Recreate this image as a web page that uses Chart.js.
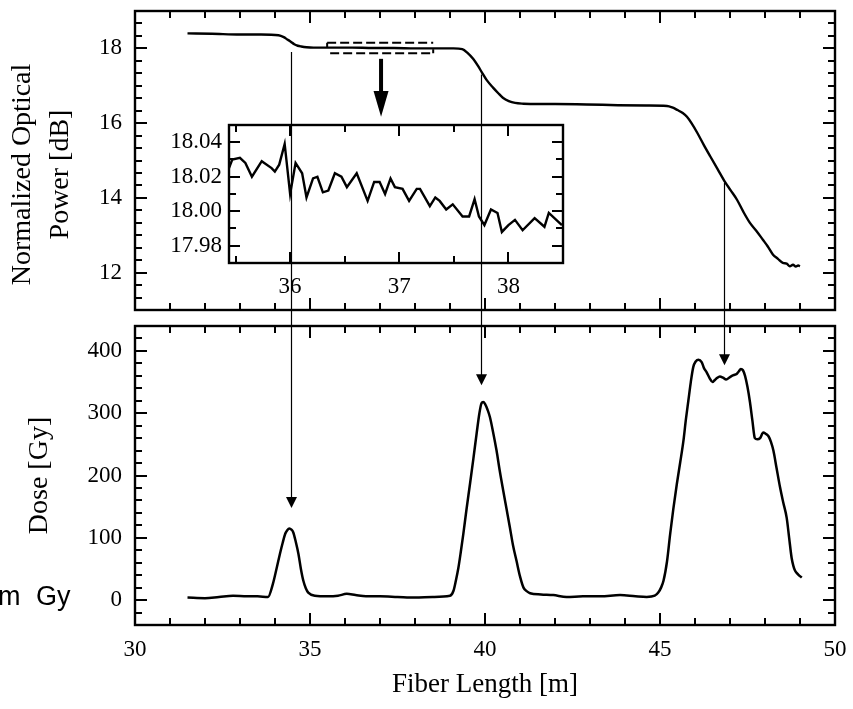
<!DOCTYPE html>
<html>
<head>
<meta charset="utf-8">
<title>Optical power and dose along the fiber</title>
<script src="https://cdn.jsdelivr.net/npm/chart.js@4.4.1/dist/chart.umd.min.js"></script>
<style>
  html, body { margin: 0; padding: 0; background: #fff; }
  #wrap { position: relative; width: 853px; height: 709px; overflow: hidden; }
  #main { position: absolute; left: 0; top: 0; }
  #inset { position: absolute; left: 140px; top: 115px; }
  #cut { position: absolute; left: -2px; top: 583px; font-family: 'Liberation Sans', Arial, sans-serif;
         font-size: 27px; line-height: 27px; word-spacing: 8px; color: #000; white-space: nowrap; }
</style>
</head>
<body>
<div id="wrap">
  <canvas id="main" width="853" height="709"></canvas>
  <canvas id="inset" width="440" height="185"></canvas>
  <div id="cut">m Gy</div>
</div>
<script>
// normalized optical power along the fiber (top panel)
const powerLength = [
  31.5, 32.2, 33.0, 33.6, 34.1, 34.25, 34.35, 34.45, 34.55, 34.65,
  34.75, 34.9, 35.1, 35.6, 36.2, 36.8, 37.4, 38.0, 38.6, 39.1,
  39.35, 39.5, 39.66, 39.8, 39.91, 40.05, 40.23, 40.38, 40.51, 40.68,
  40.86, 41.1, 41.5, 42.0, 42.9, 43.8, 44.6, 45.2, 45.35, 45.5,
  45.65, 45.77, 45.9, 46.06, 46.25, 46.43, 46.65, 46.86, 47.02, 47.2,
  47.38, 47.57, 47.75, 47.94, 48.08, 48.23, 48.37, 48.51, 48.62, 48.71,
  48.8, 48.88, 48.95, 49.0
];
const powerDb = [
  18.40, 18.39, 18.37, 18.37, 18.35, 18.30, 18.24, 18.18, 18.11, 18.07,
  18.05, 18.03, 18.02, 18.02, 18.02, 18.01, 18.01, 18.00, 18.00, 18.00,
  17.98, 17.88, 17.72, 17.53, 17.36, 17.15, 16.95, 16.80, 16.68, 16.59,
  16.54, 16.52, 16.51, 16.51, 16.50, 16.48, 16.47, 16.46, 16.42, 16.35,
  16.27, 16.17, 16.00, 15.75, 15.42, 15.12, 14.76, 14.42, 14.20, 13.95,
  13.63, 13.33, 13.12, 12.88, 12.70, 12.48, 12.37, 12.26, 12.24, 12.17,
  12.21, 12.16, 12.19, 12.17
];

// dose along the fiber (bottom panel)
const doseLength = [
  31.5, 32.0, 32.4, 32.8, 33.2, 33.5, 33.8, 33.94, 34.05, 34.14,
  34.22, 34.29, 34.35, 34.41, 34.47, 34.52, 34.6, 34.67, 34.74, 34.81,
  34.88, 34.95, 35.14, 35.5, 35.8, 36.05, 36.3, 36.6, 37.0, 37.5,
  38.0, 38.5, 39.0, 39.1, 39.17, 39.24, 39.31, 39.38, 39.47, 39.57,
  39.67, 39.76, 39.84, 39.9, 39.95, 40.0, 40.07, 40.14, 40.23, 40.33,
  40.42, 40.52, 40.62, 40.71, 40.8, 40.9, 41.0, 41.1, 41.2, 41.29,
  41.6, 41.95, 42.33, 42.8, 43.3, 43.86, 44.3, 44.62, 44.85, 44.95,
  45.03, 45.1, 45.2, 45.29, 45.38, 45.48, 45.58, 45.67, 45.74, 45.81,
  45.88, 45.95, 46.02, 46.1, 46.19, 46.26, 46.33, 46.42, 46.5, 46.56,
  46.62, 46.71, 46.8, 46.89, 47.0, 47.1, 47.19, 47.25, 47.31, 47.37,
  47.43, 47.5, 47.57, 47.64, 47.71, 47.78, 47.86, 47.95, 48.02, 48.1,
  48.17, 48.24, 48.33, 48.43, 48.52, 48.62, 48.69, 48.76, 48.81, 48.86,
  48.95, 49.05
];
const doseGy = [
  4, 3, 5, 7, 6, 6, 5, 26, 52, 74,
  92, 106, 112, 115, 113, 109, 92, 74, 50, 31,
  19, 12, 7, 6, 7, 10, 8, 6, 6, 5,
  4, 5, 7, 15, 32, 52, 78, 106, 145, 186,
  228, 267, 300, 316, 318, 315, 306, 294, 270, 240,
  208, 176, 145, 117, 88, 63, 38, 20, 14, 11,
  9, 8, 5, 6, 6, 8, 6, 5, 7, 12,
  20, 31, 62, 106, 146, 186, 222, 256, 290, 320,
  350, 374, 383, 386, 382, 372, 366, 356, 350, 353,
  356, 359, 357, 354, 358, 361, 363, 367, 371, 369,
  360, 342, 318, 288, 260, 258, 260, 269, 267, 263,
  254, 240, 212, 181, 157, 132, 100, 68, 55, 47,
  41, 36
];

// blown-up piece of the power trace (inset)
const zoomLength = [
  35.44, 35.47, 35.54, 35.59, 35.65, 35.74, 35.83, 35.86, 35.90, 35.95,
  36.00, 36.05, 36.11, 36.15, 36.21, 36.25, 36.30, 36.35, 36.41, 36.47,
  36.52, 36.61, 36.71, 36.77, 36.82, 36.87, 36.92, 36.96, 37.03, 37.09,
  37.16, 37.19, 37.28, 37.33, 37.37, 37.43, 37.49, 37.58, 37.64, 37.69,
  37.73, 37.78, 37.84, 37.90, 37.94, 38.00, 38.06, 38.13, 38.24, 38.33,
  38.37, 38.49
];
const zoomDb = [
  18.025, 18.030, 18.031, 18.028, 18.020, 18.029, 18.025, 18.023, 18.027, 18.039,
  18.010, 18.028, 18.022, 18.008, 18.019, 18.020, 18.011, 18.012, 18.022, 18.020,
  18.014, 18.022, 18.006, 18.017, 18.017, 18.010, 18.019, 18.014, 18.013, 18.006,
  18.013, 18.013, 18.003, 18.008, 18.006, 18.001, 18.004, 17.997, 17.997, 18.007,
  17.997, 17.992, 18.001, 17.999, 17.988, 17.992, 17.995, 17.989, 17.996, 17.991,
  17.999, 17.992
];

// tick labels
const lengthTicks = [30, 35, 40, 45, 50];
const powerTicks = [12, 14, 16, 18];
const doseTicks = [0, 100, 200, 300, 400];
const zoomLengthTicks = [36, 37, 38];
const zoomDbTicks = [17.98, 18.00, 18.02, 18.04];

// arrows from a step in the power trace down to its dose peak
const markLength = [34.45, 39.9, 46.84];
const markFromDb = [17.9, 17.3, 14.4];
const markToGy = [148, 345, 377];

// dashed box that the inset blows up, and the thick arrow under it
const zoomBoxLength = [35.49, 38.52];
const zoomBoxDb = [17.87, 18.15];
const bigArrowLength = 37.03;
const bigArrowDb = [17.72, 16.86, 16.17];

const SERIF = "'Liberation Serif', 'Times New Roman', serif";
const tickFont = { family: SERIF, size: 23 };
const xTitleFont = { family: SERIF, size: 27 };
const yTitleFont = { family: SERIF, size: 28, lineHeight: 1.36 };

const pts = (xs, ys) => xs.map((x, i) => ({ x: x, y: ys[i] }));
const fixTicks = vals => s => { s.ticks = vals.map(v => ({ value: v })); };

function tickRun(from, to, step) {
  const out = [];
  for (let k = 0; from + k * step <= to + 1e-9; k++) out.push(from + k * step);
  return out;
}
const isMajor = (v, majors) => majors.some(m => Math.abs(m - v) < 1e-6);

// frame with inward ticks on all four sides
function drawBox(ctx, box, xs, ys, xMinor, yMinor, xMajor, yMajor, major, minor) {
  ctx.save();
  ctx.strokeStyle = '#000';
  ctx.lineWidth = 2;
  ctx.beginPath();
  xMinor.forEach(v => {
    const p = Math.round(xs.getPixelForValue(v));
    const len = isMajor(v, xMajor) ? major : minor;
    ctx.moveTo(p, box.top); ctx.lineTo(p, box.top + len);
    ctx.moveTo(p, box.bottom); ctx.lineTo(p, box.bottom - len);
  });
  yMinor.forEach(v => {
    const p = Math.round(ys.getPixelForValue(v));
    const len = isMajor(v, yMajor) ? major : minor;
    ctx.moveTo(box.left, p); ctx.lineTo(box.left + len, p);
    ctx.moveTo(box.right, p); ctx.lineTo(box.right - len, p);
  });
  ctx.stroke();
  ctx.lineWidth = 2.4;
  ctx.strokeRect(box.left, box.top, box.right - box.left, box.bottom - box.top);
  ctx.restore();
}

const panelFrames = {
  id: 'panelFrames',
  afterDatasetsDraw(chart) {
    const { ctx, chartArea: a } = chart;
    const { x, yTop, yBot } = chart.scales;
    const xMinor = tickRun(30, 50, 1);
    drawBox(ctx, { left: a.left, right: a.right, top: yTop.top, bottom: yTop.bottom },
      x, yTop, xMinor, tickRun(11 + 1 / 3, 18.7, 1 / 3), lengthTicks, powerTicks, 12, 7);
    drawBox(ctx, { left: a.left, right: a.right, top: yBot.top, bottom: yBot.bottom },
      x, yBot, xMinor, tickRun(-20, 420, 20), lengthTicks, doseTicks, 12, 7);

    ctx.save();
    ctx.strokeStyle = '#000';
    ctx.fillStyle = '#000';

    // thin arrows
    ctx.lineWidth = 1.2;
    markLength.forEach((v, i) => {
      const px = Math.round(x.getPixelForValue(v)) + 0.5;
      const y0 = yTop.getPixelForValue(markFromDb[i]);
      const y1 = yBot.getPixelForValue(markToGy[i]);
      ctx.beginPath(); ctx.moveTo(px, y0); ctx.lineTo(px, y1 - 9); ctx.stroke();
      ctx.beginPath();
      ctx.moveTo(px - 5.5, y1 - 11); ctx.lineTo(px + 5.5, y1 - 11); ctx.lineTo(px, y1);
      ctx.closePath(); ctx.fill();
    });

    // dashed zoom box
    const bx0 = x.getPixelForValue(zoomBoxLength[0]);
    const bx1 = x.getPixelForValue(zoomBoxLength[1]);
    const byLow = yTop.getPixelForValue(zoomBoxDb[0]);
    const byHigh = yTop.getPixelForValue(zoomBoxDb[1]);
    ctx.lineWidth = 2;
    ctx.setLineDash([9, 4]);
    ctx.beginPath();
    ctx.moveTo(bx0, byHigh); ctx.lineTo(bx1, byHigh);
    ctx.moveTo(bx0 + 3, byLow); ctx.lineTo(bx1, byLow);
    ctx.stroke();
    ctx.setLineDash([]);
    ctx.beginPath();
    ctx.moveTo(bx0, byHigh); ctx.lineTo(bx0, byHigh + 5);
    ctx.moveTo(bx1, byLow); ctx.lineTo(bx1, byLow - 4);
    ctx.stroke();

    // thick arrow pointing at the inset
    const ax = x.getPixelForValue(bigArrowLength);
    const a0 = yTop.getPixelForValue(bigArrowDb[0]);
    const a1 = yTop.getPixelForValue(bigArrowDb[1]);
    const a2 = yTop.getPixelForValue(bigArrowDb[2]);
    ctx.lineWidth = 4;
    ctx.beginPath(); ctx.moveTo(ax, a0); ctx.lineTo(ax, a1 + 2); ctx.stroke();
    ctx.beginPath();
    ctx.moveTo(ax - 7.5, a1); ctx.lineTo(ax + 7.5, a1); ctx.lineTo(ax, a2);
    ctx.closePath(); ctx.fill();
    ctx.restore();
  }
};

const insetFrame = {
  id: 'insetFrame',
  afterDatasetsDraw(chart) {
    const { ctx, chartArea: a } = chart;
    const { x, y } = chart.scales;
    drawBox(ctx, { left: a.left, right: a.right, top: a.top, bottom: a.bottom },
      x, y, tickRun(35.5, 38.5, 0.5), tickRun(17.98, 18.045, 0.01),
      zoomLengthTicks, zoomDbTicks, 11, 7);
  }
};

const noGrid = { display: false, drawTicks: false };
const noBorder = { display: false };

// left axes stack bottom-up in the order they are listed: dose, gap, power
new Chart(document.getElementById('main'), {
  type: 'line',
  data: {
    datasets: [
      {
        label: 'Normalized optical power',
        data: pts(powerLength, powerDb),
        yAxisID: 'yTop',
        borderColor: '#000',
        borderWidth: 2.4,
        pointRadius: 0,
        cubicInterpolationMode: 'monotone'
      },
      {
        label: 'Dose',
        data: pts(doseLength, doseGy),
        yAxisID: 'yBot',
        borderColor: '#000',
        borderWidth: 2.5,
        pointRadius: 0,
        cubicInterpolationMode: 'monotone'
      }
    ]
  },
  options: {
    responsive: false,
    animation: false,
    devicePixelRatio: 1,
    layout: { padding: { top: 11, right: 18, bottom: 0, left: 0 } },
    plugins: { legend: { display: false }, tooltip: { enabled: false } },
    scales: {
      x: {
        type: 'linear',
        position: 'bottom',
        min: 30,
        max: 50,
        grid: noGrid,
        border: noBorder,
        ticks: { font: tickFont, color: '#000', padding: 11, maxRotation: 0, autoSkip: false, callback: v => String(v) },
        afterBuildTicks: fixTicks(lengthTicks),
        afterFit: s => { s.height = 84; s.paddingLeft = 0; s.paddingRight = 0; },
        title: { display: true, text: 'Fiber Length [m]', font: xTitleFont, color: '#000', padding: { top: 0, bottom: 8 } }
      },
      yBot: {
        type: 'linear',
        position: 'left',
        stack: 'panels',
        stackWeight: 299,
        min: -40,
        max: 440,
        grid: noGrid,
        border: noBorder,
        ticks: { font: tickFont, color: '#000', padding: 13, autoSkip: false, callback: v => String(v) },
        afterBuildTicks: fixTicks(doseTicks),
        afterFit: s => { s.width = 135; s.paddingTop = 0; s.paddingBottom = 0; },
        title: { display: true, text: 'Dose [Gy]', font: yTitleFont, color: '#000', padding: { top: 21, bottom: 0 } }
      },
      yGap: {
        type: 'linear',
        position: 'left',
        stack: 'panels',
        stackWeight: 16,
        min: 0,
        max: 1,
        grid: noGrid,
        border: noBorder,
        ticks: { display: false },
        afterFit: s => { s.width = 135; s.paddingTop = 0; s.paddingBottom = 0; }
      },
      yTop: {
        type: 'linear',
        position: 'left',
        stack: 'panels',
        stackWeight: 299,
        min: 11,
        max: 19,
        grid: noGrid,
        border: noBorder,
        ticks: { font: tickFont, color: '#000', padding: 13, autoSkip: false, callback: v => String(v) },
        afterBuildTicks: fixTicks(powerTicks),
        afterFit: s => { s.width = 135; s.paddingTop = 0; s.paddingBottom = 0; },
        // trailing spaces push the centred title a little down, as in the figure
        title: { display: true, text: ['Normalized Optical    ', 'Power [dB]    '], font: yTitleFont, color: '#000', padding: { top: 4, bottom: 0 } }
      }
    }
  },
  plugins: [panelFrames]
});

new Chart(document.getElementById('inset'), {
  type: 'line',
  data: {
    datasets: [{
      label: 'Zoom',
      data: pts(zoomLength, zoomDb),
      borderColor: '#000',
      borderWidth: 2.4,
      pointRadius: 0,
      tension: 0
    }]
  },
  options: {
    responsive: false,
    animation: false,
    devicePixelRatio: 1,
    layout: { padding: { top: 10, right: 17, bottom: 0, left: 0 } },
    plugins: { legend: { display: false }, tooltip: { enabled: false } },
    scales: {
      x: {
        type: 'linear',
        min: 35.44,
        max: 38.5,
        grid: noGrid,
        border: noBorder,
        ticks: { font: tickFont, color: '#000', padding: 10, maxRotation: 0, autoSkip: false, callback: v => String(v) },
        afterBuildTicks: fixTicks(zoomLengthTicks),
        afterFit: s => { s.height = 37; s.paddingLeft = 0; s.paddingRight = 0; }
      },
      y: {
        type: 'linear',
        min: 17.97,
        max: 18.05,
        grid: noGrid,
        border: noBorder,
        ticks: { font: tickFont, color: '#000', padding: 7, autoSkip: false, callback: v => v.toFixed(2) },
        afterBuildTicks: fixTicks(zoomDbTicks),
        afterFit: s => { s.width = 89; s.paddingTop = 0; s.paddingBottom = 0; }
      }
    }
  },
  plugins: [insetFrame]
});
</script>
</body>
</html>
